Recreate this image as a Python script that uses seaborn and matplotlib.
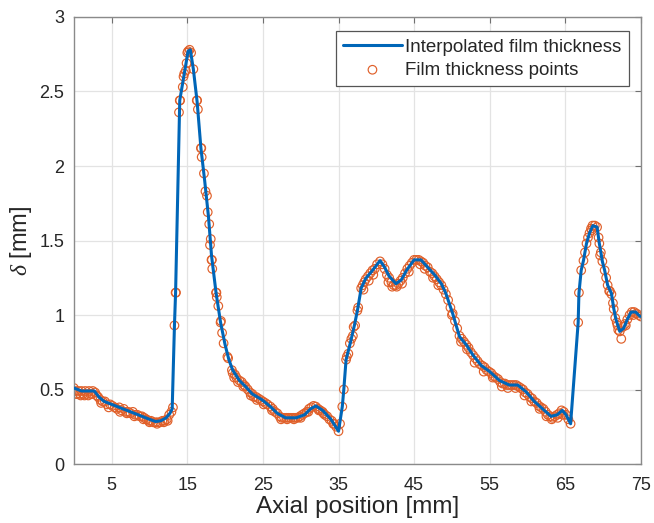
import matplotlib
matplotlib.use("Agg")
import matplotlib.pyplot as plt
import seaborn as sns
import pandas as pd

# Interpolated line nodes (mm, mm)
line_x = [0.0, 0.5, 1.0, 2.0, 2.7, 3.3, 4.0, 5.0, 6.0, 7.0, 8.0, 9.0, 10.0, 10.8, 11.5, 12.2, 12.7, 13.0,
          13.3, 13.45, 14.0, 14.4, 14.8, 15.1, 15.4, 15.8, 16.3, 16.8, 17.3, 17.8, 18.2, 18.8, 19.4, 20.0,
          20.5, 21.0, 21.9, 22.7, 23.6, 24.9, 26.0, 26.9, 28.0, 29.4, 30.5, 31.3, 32.0, 32.9, 34.0, 35.0,
          35.5, 35.7, 36.0, 36.6, 37.1, 37.5, 38.0, 38.6, 39.5, 40.5, 41.1, 41.7, 42.6, 43.3, 44.0, 45.0,
          45.9, 46.8, 47.7, 48.6, 49.2, 50.1, 51.0, 51.9, 52.8, 53.9, 55.0, 56.3, 57.6, 58.7, 59.8, 60.9,
          62.0, 63.1, 63.9, 64.6, 65.1, 65.7, 66.7, 66.8, 67.1, 67.4, 67.8, 68.2, 68.65, 69.2, 69.5, 69.9,
          70.2, 70.6, 71.1, 71.4, 71.7, 72.2, 72.7, 73.2, 73.7, 74.3, 74.9]
line_y = [0.51, 0.50, 0.49, 0.49, 0.49, 0.45, 0.42, 0.40, 0.38, 0.36, 0.34, 0.32, 0.30, 0.285, 0.29, 0.31, 0.34, 0.37,
          0.93, 1.15, 2.44, 2.56, 2.68, 2.77, 2.78, 2.65, 2.43, 2.12, 1.90, 1.66, 1.40, 1.15, 0.95, 0.80,
          0.70, 0.63, 0.56, 0.52, 0.47, 0.43, 0.385, 0.34, 0.31, 0.31, 0.33, 0.37, 0.39, 0.36, 0.30, 0.22,
          0.385, 0.50, 0.70, 0.82, 0.93, 1.03, 1.18, 1.245, 1.30, 1.365, 1.32, 1.26, 1.21, 1.235, 1.30, 1.37,
          1.37, 1.32, 1.27, 1.21, 1.145, 1.01, 0.855, 0.80, 0.73, 0.66, 0.62, 0.56, 0.53, 0.53, 0.485, 0.42,
          0.37, 0.32, 0.33, 0.36, 0.33, 0.27, 0.95, 1.145, 1.30, 1.365, 1.48, 1.55, 1.60, 1.59, 1.48, 1.36,
          1.30, 1.20, 1.145, 1.045, 0.97, 0.89, 0.91, 0.97, 1.02, 1.02, 0.99]

# Measured film thickness points
pts_x = [0.0, 0.2, 0.4, 0.6, 0.8, 1.0, 1.2, 1.5, 1.7, 2.0, 2.2, 2.5, 2.8, 3.0, 3.2, 3.5, 3.8, 4.1, 4.4, 4.8,
         5.1, 5.4, 5.7, 6.0, 6.3, 6.6, 6.9, 7.2, 7.5, 7.8, 8.1, 8.4, 8.7, 9.0, 9.3, 9.6, 9.9, 10.2, 10.5, 10.8,
         11.1, 11.4, 11.7, 12.0, 12.3, 12.6, 12.9, 13.1,
         13.3, 13.45, 13.5, 13.9, 14.0, 14.05, 14.4, 14.5, 14.6, 14.8, 14.9, 15.0, 15.1, 15.3, 15.5, 15.8,
         16.25, 16.3, 16.4, 16.8, 16.85, 16.9, 17.2, 17.4, 17.6, 17.7, 17.9, 18.1, 18.0, 18.2, 18.25, 18.3,
         18.8, 18.85, 18.9, 19.1, 19.4, 19.45, 19.6, 19.8, 20.3, 20.4, 20.9, 21.0, 21.3, 21.5, 21.9, 22.2,
         22.5, 22.7, 23.0, 23.3, 23.6, 23.8, 24.1, 24.4, 24.7, 25.0, 25.3, 25.6, 26.0, 26.3, 26.6, 26.9,
         27.2, 27.5, 27.8, 28.1, 28.4, 28.7, 29.0, 29.3, 29.6, 29.9, 30.2, 30.5, 30.8, 31.1, 31.4, 31.7,
         32.0, 32.3, 32.6, 32.9, 33.2, 33.5, 33.8, 34.1, 34.4, 34.7, 35.0, 35.2, 35.5, 35.7, 36.0, 36.1,
         36.5, 36.7, 37.0, 37.2, 37.5, 37.6, 38.0, 38.2, 38.4, 38.6, 38.9, 39.2, 39.5, 39.8, 40.1, 40.5,
         40.8, 41.1, 41.4, 41.7, 42.0, 42.3, 42.6, 42.9, 43.2, 43.5, 43.8, 44.1, 44.4, 44.7, 45.0, 45.3,
         45.6, 45.9, 46.2, 46.5, 46.8, 47.1, 47.4, 47.7, 48.0, 48.3, 48.6, 48.9, 49.2, 49.5, 49.8, 50.1,
         50.4, 50.7, 51.0, 51.3, 51.6, 51.9, 52.2, 52.5, 52.8, 53.1, 53.4, 53.7, 54.0, 54.3, 54.6, 54.9,
         55.2, 55.5, 55.8, 56.1, 56.4, 56.7, 57.0, 57.3, 57.6, 57.9, 58.2, 58.5, 58.8, 59.1, 59.4, 59.7,
         60.0, 60.3, 60.6, 60.9, 61.2, 61.5, 61.8, 62.1, 62.4, 62.7, 63.0, 63.3, 63.6, 63.9, 64.2, 64.5,
         64.8, 65.1, 65.4, 65.7, 66.7, 66.8, 67.1, 67.4, 67.6, 67.8, 68.0, 68.2, 68.4, 68.6, 68.9, 69.2,
         69.4, 69.5, 69.7, 69.9, 70.2, 70.4, 70.6, 70.9, 71.1, 71.3, 71.4, 71.6, 71.8, 72.0, 72.2, 72.4,
         72.6, 72.9, 73.2, 73.5, 73.8, 74.1, 74.4, 74.7, 75.0,
         # second row of scattered points
         0.3, 0.9, 1.4, 1.9, 2.4, 3.6, 4.6, 6.1, 7.0, 8.0, 9.2, 10.0, 11.0, 11.9, 12.4,
         21.2, 21.7, 22.4, 23.4, 24.2, 25.1, 26.2, 27.4, 28.2, 29.1, 30.0, 31.0, 32.4, 33.0, 34.3,
         36.3, 36.9, 38.3, 39.0, 39.6, 41.6, 42.1, 42.7, 43.4, 44.3, 45.8, 46.4, 47.5, 48.2, 50.0,
         51.2, 52.0, 53.0, 54.2, 55.4, 56.6, 57.4, 58.4, 59.6, 60.5, 61.6, 62.5, 63.2, 64.0, 64.7,
         68.5, 69.6, 70.8, 71.9, 73.0, 74.0]
pts_y = [0.51, 0.49, 0.47, 0.49, 0.47, 0.49, 0.47, 0.49, 0.47, 0.49, 0.47, 0.49, 0.48, 0.46, 0.45, 0.43, 0.42, 0.42, 0.40, 0.40,
         0.39, 0.38, 0.37, 0.38, 0.36, 0.37, 0.35, 0.35, 0.34, 0.35, 0.33, 0.33, 0.32, 0.32, 0.31, 0.30, 0.29, 0.29, 0.28, 0.28,
         0.28, 0.28, 0.29, 0.29, 0.30, 0.33, 0.35, 0.38,
         0.93, 1.15, 1.15, 2.36, 2.44, 2.44, 2.53, 2.60, 2.62, 2.64, 2.69, 2.76, 2.77, 2.78, 2.76, 2.65,
         2.44, 2.44, 2.38, 2.12, 2.12, 2.06, 1.95, 1.83, 1.80, 1.69, 1.61, 1.51, 1.47, 1.37, 1.37, 1.31,
         1.15, 1.15, 1.12, 1.06, 0.95, 0.96, 0.88, 0.81, 0.72, 0.71, 0.63, 0.61, 0.60, 0.58, 0.56, 0.55,
         0.53, 0.52, 0.50, 0.48, 0.47, 0.45, 0.45, 0.44, 0.43, 0.42, 0.41, 0.40, 0.385, 0.37, 0.35, 0.34,
         0.32, 0.31, 0.31, 0.31, 0.31, 0.31, 0.31, 0.31, 0.31, 0.32, 0.33, 0.34, 0.35, 0.37, 0.38, 0.39,
         0.385, 0.37, 0.36, 0.35, 0.33, 0.32, 0.30, 0.29, 0.27, 0.25, 0.22, 0.27, 0.385, 0.50, 0.70, 0.72,
         0.81, 0.84, 0.92, 0.93, 1.03, 1.05, 1.18, 1.20, 1.22, 1.24, 1.26, 1.28, 1.30, 1.31, 1.34, 1.36,
         1.34, 1.31, 1.27, 1.25, 1.22, 1.20, 1.20, 1.21, 1.23, 1.25, 1.28, 1.31, 1.33, 1.35, 1.37, 1.37,
         1.37, 1.36, 1.35, 1.33, 1.32, 1.29, 1.28, 1.26, 1.24, 1.22, 1.20, 1.17, 1.14, 1.10, 1.05, 1.01,
         0.96, 0.91, 0.86, 0.84, 0.82, 0.80, 0.78, 0.75, 0.73, 0.71, 0.69, 0.67, 0.66, 0.65, 0.63, 0.62,
         0.61, 0.59, 0.58, 0.57, 0.55, 0.54, 0.54, 0.53, 0.53, 0.53, 0.53, 0.53, 0.52, 0.51, 0.50, 0.48,
         0.47, 0.45, 0.44, 0.42, 0.41, 0.39, 0.38, 0.37, 0.35, 0.33, 0.32, 0.31, 0.32, 0.33, 0.34, 0.36,
         0.35, 0.33, 0.30, 0.27, 0.95, 1.15, 1.30, 1.365, 1.42, 1.48, 1.52, 1.55, 1.58, 1.60, 1.60, 1.59,
         1.52, 1.48, 1.42, 1.36, 1.30, 1.25, 1.20, 1.16, 1.14, 1.08, 1.04, 0.98, 0.95, 0.90, 0.89, 0.84,
         0.92, 0.94, 0.97, 1.00, 1.02, 1.02, 1.01, 1.00, 0.99,
         0.47, 0.46, 0.46, 0.46, 0.47, 0.41, 0.38, 0.35, 0.34, 0.32, 0.30, 0.28, 0.27, 0.28, 0.29,
         0.58, 0.55, 0.52, 0.46, 0.43, 0.40, 0.36, 0.30, 0.30, 0.30, 0.31, 0.35, 0.36, 0.34, 0.27,
         0.74, 0.86, 1.17, 1.23, 1.27, 1.22, 1.19, 1.19, 1.21, 1.29, 1.34, 1.31, 1.25, 1.20, 1.00,
         0.82, 0.77, 0.68, 0.62, 0.58, 0.52, 0.51, 0.51, 0.46, 0.42, 0.37, 0.32, 0.30, 0.31, 0.33,
         1.57, 1.40, 1.16, 0.93, 0.93, 1.00]

x_ticks = [5, 15, 25, 35, 45, 55, 65, 75]
y_ticks = [0, 0.5, 1, 1.5, 2, 2.5, 3]
y_tick_labels = ["0", "0.5", "1", "1.5", "2", "2.5", "3"]

sns.set_style("white")
plt.rcParams["font.family"] = ["Liberation Sans", "DejaVu Sans"]
plt.rcParams["mathtext.fontset"] = "custom"
plt.rcParams["mathtext.it"] = "Liberation Serif:italic"

fig = plt.figure(figsize=(6.54, 5.23), dpi=100)
ax = fig.add_axes([0.113, 0.1128, 0.867, 0.8547])

line_df = pd.DataFrame({"x": line_x, "y": line_y})
pts_df = pd.DataFrame({"x": pts_x, "y": pts_y})

sns.scatterplot(data=pts_df, x="x", y="y", ax=ax, marker="o", s=38,
                facecolor="none", edgecolor="#E0602A", linewidth=0.85, zorder=2,
                label="Film thickness points")
sns.lineplot(data=line_df, x="x", y="y", ax=ax, color="#0066B8", linewidth=2.2,
             sort=False, estimator=None, zorder=3, label="Interpolated film thickness")

ax.set_xlim(0, 75)
ax.set_ylim(0, 3)
ax.set_xticks(x_ticks)
ax.set_yticks(y_ticks)
ax.set_yticklabels(y_tick_labels)
ax.grid(True, color="#e3e3e3", linewidth=0.9)
ax.set_axisbelow(True)
ax.tick_params(direction="in", length=4, width=0.8, color="#707070",
               labelsize=13, labelcolor="#262626", top=True, right=True)
ax.tick_params(axis="x", pad=9)
ax.tick_params(axis="y", pad=7)
for s in ax.spines.values():
    s.set_color("#8a8a8a")
    s.set_linewidth(1.0)
    s.set_visible(True)

ax.set_xlabel("Axial position [mm]", fontsize=17.5, color="#262626", labelpad=2)
ax.set_ylabel(r"$\delta$ [mm]", fontsize=17, color="#262626", labelpad=4)

handles, labels = ax.get_legend_handles_labels()
order = [labels.index("Interpolated film thickness"), labels.index("Film thickness points")]
leg = ax.legend([handles[i] for i in order], [labels[i] for i in order],
                loc="upper right", bbox_to_anchor=(0.979, 0.968), fontsize=13.5,
                frameon=True, fancybox=False, edgecolor="#555555", framealpha=1,
                handlelength=3.1, handletextpad=0.2, borderpad=0.4, labelspacing=0.3,
                borderaxespad=0)
leg.get_frame().set_linewidth(0.9)

fig.savefig("out.png", dpi=100)
